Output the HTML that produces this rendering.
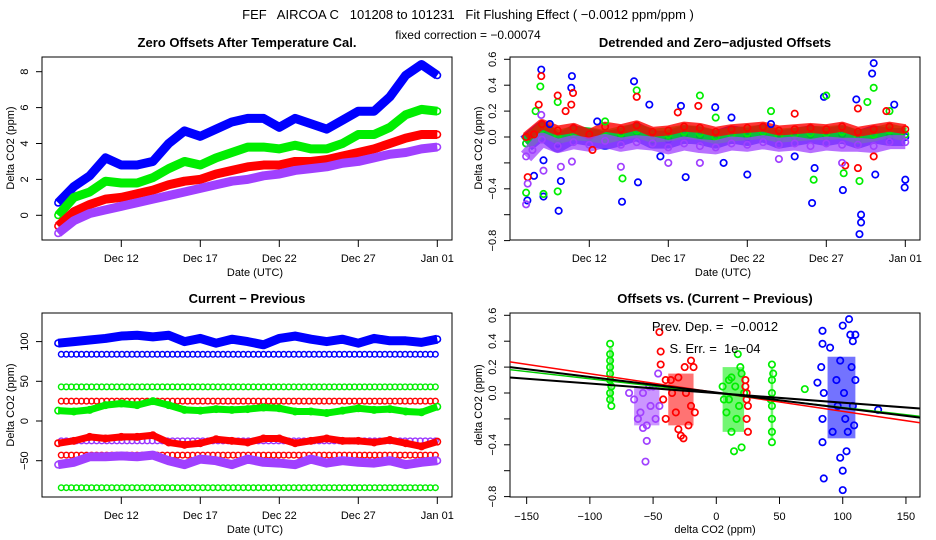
<!DOCTYPE html>
<html><head><meta charset="utf-8">
<style>
body{margin:0;background:#fff;}
svg{display:block;font-family:"Liberation Sans",sans-serif;}
</style></head>
<body>
<svg id="chart" width="936" height="540" viewBox="0 0 936 540" xmlns="http://www.w3.org/2000/svg">
<text x="468" y="19" text-anchor="middle" font-size="13" style="white-space:pre">FEF   AIRCOA C   101208 to 101231   Fit Flushing Effect ( −0.0012 ppm/ppm )</text>
<text x="468" y="39" text-anchor="middle" font-size="12">fixed correction = −0.00074</text>
<g id="g"></g>
</svg>
<script>
// ---- data: time axis in days of December (Jan 01 = 32)
const days = [8,9,10,11,12,13,14,15,16,17,18,19,20,21,22,23,24,25,26,27,28,29,30,31,32];
const dateTicks = [12,17,22,27,32];
const dateTickLabels = ["Dec 12","Dec 17","Dec 22","Dec 27","Jan 01"];
// panel 1: zero offsets
const zBlue  = [0.7,1.6,2.2,3.2,2.8,2.8,3.0,4.0,4.7,4.4,4.8,5.2,5.4,5.4,4.9,5.4,5.1,4.8,5.3,5.8,5.8,6.6,7.8,8.4,7.8];
const zGreen = [0.0,1.0,1.3,1.9,1.8,1.8,2.1,2.6,3.0,2.8,3.2,3.5,3.8,3.8,3.7,3.9,3.7,3.7,4.0,4.5,4.5,4.9,5.6,5.9,5.8];
const zRed   = [-0.6,0.2,0.6,0.9,1.0,1.2,1.4,1.7,1.9,2.0,2.3,2.5,2.7,2.8,2.8,3.0,3.0,3.1,3.3,3.5,3.7,4.0,4.3,4.5,4.5];
const zPurple= [-1.0,-0.3,0.1,0.3,0.5,0.7,0.9,1.1,1.3,1.5,1.7,1.9,2.0,2.2,2.3,2.5,2.6,2.7,2.9,3.0,3.2,3.4,3.5,3.7,3.8];
const zTicks = [0,2,4,6,8];
// panel 2: detrended
const dBlue  = [-0.05,0.05,-0.05,0.02,0.0,-0.03,0.0,0.04,-0.02,-0.02,0.02,0.01,-0.02,0.02,0.0,0.03,-0.02,0.0,0.02,0.0,0.02,-0.02,0.02,0.0,0.0];
const dGreen = [-0.05,0.06,0.0,0.03,0.02,0.0,0.03,0.05,0.01,0.02,0.04,0.03,0.0,0.02,0.03,0.04,0.01,0.02,0.03,0.03,0.04,0.0,0.02,0.05,0.02];
const dRed   = [0.0,0.1,0.05,0.07,0.02,0.08,0.06,0.09,0.04,0.05,0.08,0.07,0.04,0.06,0.07,0.08,0.05,0.06,0.07,0.06,0.08,0.04,0.06,0.08,0.06];
const dPurple= [-0.15,-0.02,-0.07,-0.04,-0.06,-0.03,-0.06,-0.04,-0.05,-0.08,-0.05,-0.07,-0.08,-0.05,-0.06,-0.04,-0.06,-0.05,-0.07,-0.05,-0.06,-0.06,-0.07,-0.04,-0.04];
const sBlue  = [[8.08,-0.49],[8.96,0.52],[9.1,-0.18],[9.1,-0.46],[10.06,-0.57],[10.2,-0.34],[10.9,0.47],[10.86,0.38],[14.07,-0.5],[14.83,0.43],[15.08,-0.35],[15.8,0.25],[17.8,0.24],[18.1,-0.31],[19.97,0.23],[22.0,-0.29],[26.1,-0.51],[26.26,-0.24],[26.85,0.31],[28.05,-0.41],[29.1,-0.75],[29.2,-0.66],[29.2,-0.6],[28.9,0.29],[30.0,0.57],[29.9,0.49],[30.1,-0.29],[31.96,-0.39],[32.0,-0.33],[31.3,0.25],[8.5,-0.3],[9.5,0.1],[12.5,0.12],[16.5,-0.15],[21,0.15],[23.5,0.1],[25,-0.15],[20.5,-0.2]];
const sGreen = [[8.0,-0.43],[8.9,0.39],[9.1,-0.44],[10.0,0.27],[10.0,-0.42],[14.1,-0.32],[15.0,0.36],[19.0,0.32],[26.2,-0.33],[27.0,0.32],[28.1,-0.28],[29.1,-0.34],[30.0,0.38],[29.6,0.27],[8.6,0.2],[13,0.12],[20,0.15],[23.5,0.2],[31,0.2]];
const sRed   = [[8.1,-0.31],[8.96,0.47],[8.8,0.25],[10.0,0.32],[10.97,0.34],[10.86,0.25],[15.0,0.31],[18.9,0.24],[29.0,0.22],[29.0,-0.24],[30.0,-0.15],[28.2,-0.22],[8.5,0.02],[10.5,0.2],[17.6,0.19],[25,0.18],[30.8,0.2],[12.2,-0.1]];
const sPurple= [[8.0,-0.52],[8.1,-0.36],[8.96,0.17],[9.1,-0.26],[10.2,-0.23],[10.9,-0.19],[14.0,-0.23],[19.0,-0.2],[8.4,-0.1],[17,-0.2],[24,-0.17],[28,-0.2]];
const dTicks = [-0.8,-0.6,-0.4,-0.2,0.0,0.2,0.4,0.6];
const dTickLabels = ["−0.8","","−0.4","","0.0","0.2","0.4","0.6"];
// panel 3: current - previous
const cBlue  = [98,100,102,104,107,108,106,108,100,104,98,103,100,96,104,107,103,100,103,98,104,101,101,99,103];
const cGreen = [13,12,14,20,22,20,25,20,14,13,15,14,15,17,16,12,12,10,13,16,14,15,12,11,18];
const cRed   = [-28,-25,-20,-22,-20,-20,-18,-27,-30,-28,-23,-25,-27,-22,-22,-28,-25,-22,-25,-25,-27,-24,-28,-32,-26];
const cPurple= [-55,-52,-45,-45,-44,-45,-43,-50,-55,-48,-50,-55,-48,-52,-53,-55,-48,-53,-50,-52,-53,-50,-55,-52,-50];
const levelValues = [84,43,25,-25,-43,-84];
const levelColors = ["#0000ff","#00ee00","#ff0000","#9933ff","#ff0000","#00ee00"];
const cTicks = [-50,0,50,100];
// panel 4: offsets vs current-previous
const bpGreenA = [[-84,0.38],[-84,0.3],[-84,0.2],[-84,0.1],[-84,0.0],[-84,-0.05],[-83,-0.1],[-84,0.25],[-84,0.15],[-83,0.05]];
const bpPurple = [[-65,-0.05],[-60,-0.15],[-58,0.0],[-55,-0.25],[-52,-0.1],[-50,0.05],[-48,-0.2],[-46,0.15],[-55,-0.37],[-56,-0.53],[-69,0.0],[-62,-0.2],[-45,-0.1],[-53,0.05],[-58,-0.27]];
const bpRed    = [[-45,0.47],[-44,0.32],[-44,0.22],[-40,0.1],[-35,0.0],[-32,-0.15],[-30,-0.28],[-28,-0.33],[-26,-0.35],[-25,0.2],[-20,0.25],[-18,0.2],[-20,-0.1],[-17,-0.15],[-22,-0.25],[-40,-0.2],[-36,0.1],[-24,0.0],[-30,0.12],[-42,-0.05]];
const bpGreenB = [[5,0.05],[8,-0.15],[10,0.1],[12,-0.3],[14,-0.45],[16,-0.2],[17,0.3],[19,0.2],[20,-0.42],[22,0.0],[10,-0.05],[15,0.05],[18,-0.1],[6,-0.05],[20,0.15],[12,0.12],[70,0.03]];
const bpRedB   = [[23,0.1],[24,0.0],[25,-0.1],[24,-0.2],[25,-0.3],[23,0.05],[24,-0.05]];
const bpGreenC = [[44,0.22],[44,0.1],[44,0.0],[44,-0.1],[44,-0.2],[44,-0.3],[44,-0.38],[45,0.15],[43,-0.05]];
const bpBlue   = [[84,0.48],[84,0.38],[83,0.2],[85,0.0],[84,-0.2],[84,-0.38],[85,-0.66],[90,0.35],[95,0.1],[98,0.25],[100,0.52],[101,0.0],[102,-0.2],[103,-0.45],[100,-0.75],[105,0.57],[106,0.45],[108,0.4],[110,0.1],[108,-0.1],[109,-0.25],[104,-0.3],[98,-0.5],[96,-0.1],[92,-0.3],[107,0.2],[110,0.45],[80,0.08],[128,-0.13],[100,-0.6]];
const fitLines = [[0.24,-0.23],[0.18,-0.18],[0.2,-0.19],[0.12,-0.12]];
const fitColors = ["#ff0000","#00cc00","#000000","#000000"];
const pxTicks = [-150,-100,-50,0,50,100,150];
const pxTickLabels = ["−150","−100","−50","0","50","100","150"];

const NS="http://www.w3.org/2000/svg";
const G=document.getElementById('g');
function mk(tag,attrs,parent){const e=document.createElementNS(NS,tag);for(const k in attrs)e.setAttribute(k,attrs[k]);(parent||G).appendChild(e);return e;}

// scales
const xT = d => 121.3 + (d-12)*15.8;
const yZ = v => 215.3 - v*17.95;
const yD = v => 59.3 + (0.6-v)*129.5;
const yC = v => 421 - v*0.794;
const xP = v => 716.3 + v*1.2643;
const yP = v => 315.3 + (0.6-v)*129.5;

function frame(x0,y0,x1,y1,name){
  const r=mk('rect',{x:x0,y:y0,width:x1-x0,height:y1-y0,fill:'none',stroke:'#000','stroke-width':1});
  
  
}
function title(x,y,t,name){const e=mk('text',{x:x,y:y,'text-anchor':'middle','font-size':13,'font-weight':'bold'});e.textContent=t;
  
  }
function text(x,y,t,name,extra){const e=mk('text',Object.assign({x:x,y:y,'text-anchor':'middle','font-size':11},extra||{}));e.textContent=t;
  
  }
function dateAxis(x0,yb,ox){
  for(let i=0;i<dateTicks.length;i++){
    const x=xT(dateTicks[i])+ox;
    mk('line',{x1:x,x2:x,y1:yb,y2:yb+7,stroke:'#000'});
    text(x,yb+22,dateTickLabels[i],'x-tick-label');
  }
  text((x0+x0+410)/2+8,yb+36,'Date (UTC)','x-axis-title');
}
function yAxis(x0,ticks,labels,f,ylab,ycenter){
  for(let i=0;i<ticks.length;i++){
    const y=f(ticks[i]);
    mk('line',{x1:x0-6,x2:x0,y1:y,y2:y,stroke:'#000'});
    if(labels[i]!=="") text(x0-14,y+4,labels[i],'y-tick-label',{transform:`rotate(-90 ${x0-18} ${y})`,x:x0-18,y:y+4});
  }
  const lx=x0-32;
  text(lx,ycenter,ylab,'y-axis-title',{transform:`rotate(-90 ${lx} ${ycenter})`,x:lx,y:ycenter+4});
}
function band(arr,f,ox,color,w,name,op){
  const pts=days.map((d,i)=>`${xT(d)+ox},${f(arr[i])}`).join(' ');
  const p=mk('polyline',{points:pts,fill:'none',stroke:color,'stroke-width':w,'stroke-linejoin':'round','stroke-linecap':'butt',opacity:op||1});
  
  
  days.forEach((d,i)=>{const c=mk('circle',{cx:xT(d)+ox,cy:f(arr[i]),r:3.2,fill:'none',stroke:color,'stroke-width':1.6});
    
    });
}
function pts(arr,fx,fy,color,name,r){
  arr.forEach(p=>{const c=mk('circle',{cx:fx(p[0]),cy:fy(p[1]),r:r||3.2,fill:'none',stroke:color,'stroke-width':1.7});
    
    });
}

// ---- panel 1
frame(42,57,452,240,'zero-offsets-plot-box');
title(247,47,'Zero Offsets After Temperature Cal.','zero-offsets-title');
yAxis(42,zTicks,zTicks.map(String),yZ,'Delta CO2 (ppm)',148);
dateAxis(42,240,0);
band(zBlue,yZ,0,'#0000ff',9,'zero-offset-blue');
band(zGreen,yZ,0,'#00ee00',9,'zero-offset-green');
band(zRed,yZ,0,'#ff0000',9,'zero-offset-red');
band(zPurple,yZ,0,'#a040ff',9,'zero-offset-purple');

// ---- panel 2
frame(510,57,920,240,'detrended-plot-box');
title(715,47,'Detrended and Zero−adjusted Offsets','detrended-title');
yAxis(510,dTicks,dTickLabels,yD,'Delta CO2 (ppm)',148);
dateAxis(510,240,468);
band(dBlue,yD,468,'#0000ff',18,'detrended-blue',0.8);
band(dGreen,yD,468,'#00ee00',14,'detrended-green',0.75);
band(dRed,yD,468,'#ff0000',10,'detrended-red',0.8);
band(dPurple,yD,468,'#a040ff',14,'detrended-purple',0.75);
const xT2=d=>xT(d)+468;
pts(sBlue,xT2,yD,'#0000ff','detrended-blue-spike');
pts(sGreen,xT2,yD,'#00ee00','detrended-green-spike');
pts(sRed,xT2,yD,'#ff0000','detrended-red-spike');
pts(sPurple,xT2,yD,'#a040ff','detrended-purple-spike');

// ---- panel 3
frame(42,313,452,497,'current-previous-plot-box');
title(247,303,'Current − Previous','current-previous-title');
yAxis(42,cTicks,cTicks.map(v=>v<0?'−'+(-v):String(v)),yC,'Delta CO2 (ppm)',405);
dateAxis(42,497,0);
levelValues.forEach((lv,k)=>{
  for(let d=8.2; d<=32; d+=0.32){
    const c=mk('circle',{cx:xT(d),cy:yC(lv),r:2.8,fill:'none',stroke:levelColors[k],'stroke-width':1.4});
    
    
  }
});
band(cBlue,yC,0,'#0000ff',9,'current-previous-blue');
band(cGreen,yC,0,'#00ee00',7,'current-previous-green');
band(cRed,yC,0,'#ff0000',7,'current-previous-red');
band(cPurple,yC,0,'#a040ff',9,'current-previous-purple');

// ---- panel 4
frame(510,313,920,497,'offsets-vs-plot-box');
title(715,303,'Offsets vs. (Current − Previous)','offsets-vs-title');
yAxis(510,dTicks,dTickLabels,yP,'delta CO2 (ppm)',405);
pxTicks.forEach((t,i)=>{const x=xP(t);mk('line',{x1:x,x2:x,y1:497,y2:504,stroke:'#000'});text(x,520,pxTickLabels[i],'x-tick-label');});
text(715,533,'delta CO2 (ppm)','x-axis-title');
// dense cores
const cores=[[-65,-45,-0.25,0.05,'#a040ff'],[-38,-18,-0.25,0.15,'#ff0000'],[5,22,-0.3,0.2,'#00ee00'],[88,110,-0.35,0.28,'#0000ff'],[-85,-82,-0.08,0.35,'#00ee00'],[43,45,-0.35,0.2,'#00ee00']];
cores.forEach(c=>{const r=mk('rect',{x:xP(c[0]),y:yP(c[3]),width:xP(c[1])-xP(c[0]),height:yP(c[2])-yP(c[3]),fill:c[4],opacity:0.55});
  
  });
pts(bpGreenA,xP,yP,'#00ee00','scatter-green');
pts(bpPurple,xP,yP,'#a040ff','scatter-purple');
pts(bpRed,xP,yP,'#ff0000','scatter-red');
pts(bpGreenB,xP,yP,'#00ee00','scatter-green');
pts(bpRedB,xP,yP,'#ff0000','scatter-red');
pts(bpGreenC,xP,yP,'#00ee00','scatter-green');
pts(bpBlue,xP,yP,'#0000ff','scatter-blue');
fitLines.forEach((l,i)=>{const e=mk('line',{x1:510,y1:yP(l[0]),x2:920,y2:yP(l[1]),stroke:fitColors[i],'stroke-width':i>=2?2:1.5});
  
  });
text(715,331,'Prev. Dep. =  −0.0012','prev-dep-annotation',{'font-size':13,style:'white-space:pre'});
text(715,353,'S. Err. =  1e−04','std-err-annotation',{'font-size':13,style:'white-space:pre'});
</script>
</body></html>
